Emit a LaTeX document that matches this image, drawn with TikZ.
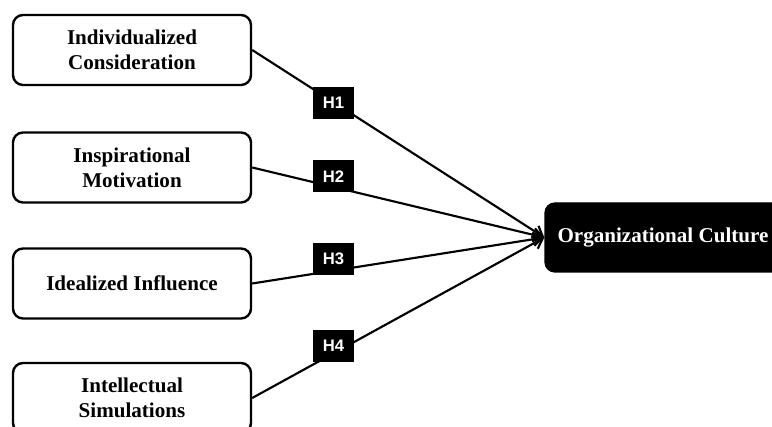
\documentclass[tikz,border=0pt]{standalone}
\usepackage{fontspec}
\setmainfont{Liberation Serif}
\newfontfamily\hfont{Liberation Sans}
\usetikzlibrary{arrows.meta}
\begin{document}
\begin{tikzpicture}[x=0.75pt,y=-0.75pt,
  srcbox/.style={draw=black, line width=1.8pt, rounded corners=7.5pt, fill=white,
    minimum width=178.5pt, minimum height=52.5pt, align=center,
    font=\fontsize{15.8}{19}\selectfont\bfseries, inner sep=0pt},
  tgtbox/.style={draw=black, fill=black, line width=1pt, rounded corners=7.5pt,
    minimum width=177pt, minimum height=51.75pt, align=center, text=white,
    font=\fontsize{15.8}{19}\selectfont\bfseries, inner sep=0pt},
  hbox/.style={fill=black, text=white, minimum width=30.75pt, minimum height=24pt,
    inner sep=0pt, font=\hfont\fontsize{12.5}{14}\selectfont\bfseries},
  link/.style={line width=1.6pt, -{Straight Barb[length=7pt,width=10pt,line width=1.6pt]}}]
\useasboundingbox (0,0) rectangle (772,427);
\fill[white] (0,0) rectangle (772,427);
\node[srcbox] (b1) at (132,50) {Individualized\\Consideration};
\node[srcbox] (b2) at (132,167.5) {Inspirational\\Motivation};
\node[srcbox] (b3) at (132,283.5) {Idealized Influence};
\node[srcbox] (b4) at (132,398) {Intellectual\\Simulations};
\node[tgtbox] (t) at (663,237.5) {Organizational Culture};
\draw[link] (b1.east) -- (t.west);
\draw[link] (b2.east) -- (t.west);
\draw[link] (b3.east) -- (t.west);
\draw[link] (b4.east) -- (t.west);
\node[hbox] (h1) at (333.5,103) {H1};
\node[hbox] (h2) at (333.5,176.5) {H2};
\node[hbox] (h3) at (333.5,259) {H3};
\node[hbox] (h4) at (333.5,346) {H4};
\end{tikzpicture}
\end{document}
